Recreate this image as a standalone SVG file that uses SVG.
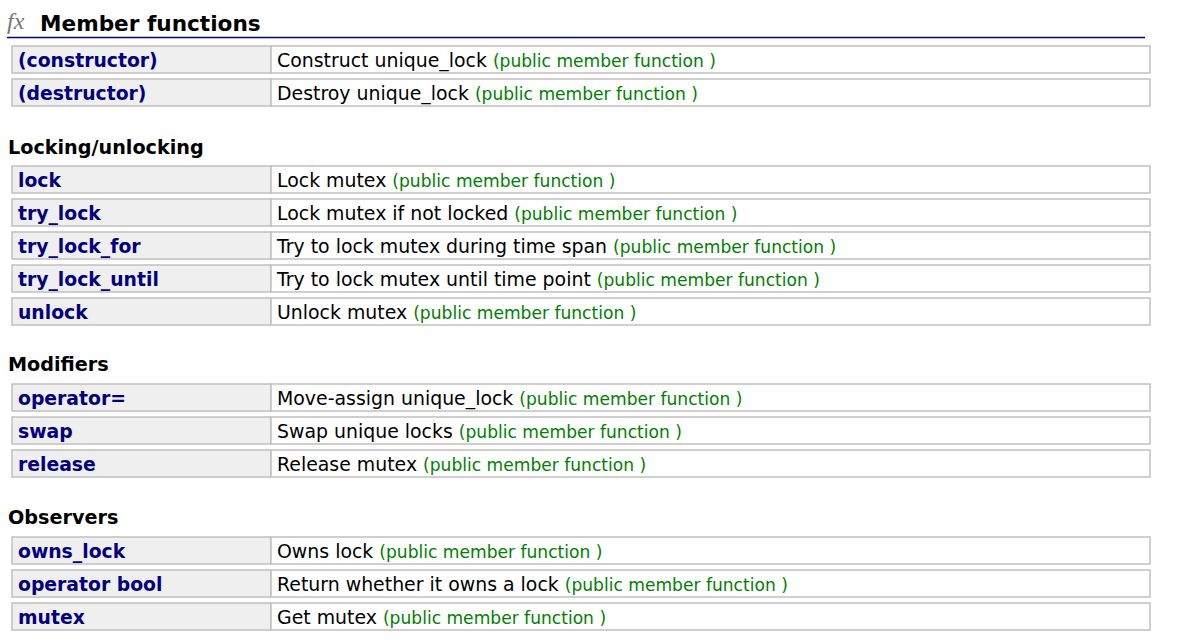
<svg xmlns="http://www.w3.org/2000/svg" width="1185" height="644" viewBox="0 0 1185 644">
<style>
.bg{fill:#fff}
.row rect.l{fill:#efefef;stroke:#c0c0c0;stroke-width:1.5}
.row rect.r{fill:#fff;stroke:#c0c0c0;stroke-width:1.5}
.n{font-family:"DejaVu Sans",Verdana,sans-serif;font-weight:bold;font-size:18.8px;fill:#000080}
.d{font-family:"DejaVu Sans",Verdana,sans-serif;font-size:18.9px;fill:#000}
.g{font-size:17.1px;fill:#008000}
.h{font-family:"DejaVu Sans",Verdana,sans-serif;font-weight:bold;font-size:19.2px;fill:#000}
.t{font-family:"DejaVu Sans",Verdana,sans-serif;font-weight:bold;font-size:21.6px;fill:#000}
</style>
<rect class="bg" width="1185" height="644"/>
<text x="7" y="29" font-family="Liberation Serif,serif" font-style="italic" font-size="24" fill="#777">fx</text>
<text class="t" x="40" y="31">Member functions</text>
<line x1="7" y1="37.5" x2="1145" y2="37.5" stroke="#000080" stroke-width="1.5"/>
<text class="h" x="8" y="154">Locking/unlocking</text>
<text class="h" x="8" y="371">Modifiers</text>
<text class="h" x="8" y="524">Observers</text>
<g id="r-constructor" class="row"><rect class="l" x="12" y="46" width="259" height="27"/><rect class="r" x="271" y="46" width="879" height="27"/><text class="n" x="18" y="67">(constructor)</text><text class="d" x="277" y="67">Construct unique_lock <tspan class="g">(public member function )</tspan></text></g>
<g id="r-destructor" class="row"><rect class="l" x="12" y="79" width="259" height="27"/><rect class="r" x="271" y="79" width="879" height="27"/><text class="n" x="18" y="100">(destructor)</text><text class="d" x="277" y="100">Destroy unique_lock <tspan class="g">(public member function )</tspan></text></g>
<g id="r-lock" class="row"><rect class="l" x="12" y="166" width="259" height="27"/><rect class="r" x="271" y="166" width="879" height="27"/><text class="n" x="18" y="187">lock</text><text class="d" x="277" y="187">Lock mutex <tspan class="g">(public member function )</tspan></text></g>
<g id="r-try_lock" class="row"><rect class="l" x="12" y="199" width="259" height="27"/><rect class="r" x="271" y="199" width="879" height="27"/><text class="n" x="18" y="220">try_lock</text><text class="d" x="277" y="220">Lock mutex if not locked <tspan class="g">(public member function )</tspan></text></g>
<g id="r-try_lock_for" class="row"><rect class="l" x="12" y="232" width="259" height="27"/><rect class="r" x="271" y="232" width="879" height="27"/><text class="n" x="18" y="253">try_lock_for</text><text class="d" x="277" y="253">Try to lock mutex during time span <tspan class="g">(public member function )</tspan></text></g>
<g id="r-try_lock_until" class="row"><rect class="l" x="12" y="265" width="259" height="27"/><rect class="r" x="271" y="265" width="879" height="27"/><text class="n" x="18" y="286">try_lock_until</text><text class="d" x="277" y="286">Try to lock mutex until time point <tspan class="g">(public member function )</tspan></text></g>
<g id="r-unlock" class="row"><rect class="l" x="12" y="298" width="259" height="27"/><rect class="r" x="271" y="298" width="879" height="27"/><text class="n" x="18" y="319">unlock</text><text class="d" x="277" y="319">Unlock mutex <tspan class="g">(public member function )</tspan></text></g>
<g id="r-operator-assign" class="row"><rect class="l" x="12" y="384" width="259" height="27"/><rect class="r" x="271" y="384" width="879" height="27"/><text class="n" x="18" y="405">operator=</text><text class="d" x="277" y="405">Move-assign unique_lock <tspan class="g">(public member function )</tspan></text></g>
<g id="r-swap" class="row"><rect class="l" x="12" y="417" width="259" height="27"/><rect class="r" x="271" y="417" width="879" height="27"/><text class="n" x="18" y="438">swap</text><text class="d" x="277" y="438">Swap unique locks <tspan class="g">(public member function )</tspan></text></g>
<g id="r-release" class="row"><rect class="l" x="12" y="450" width="259" height="27"/><rect class="r" x="271" y="450" width="879" height="27"/><text class="n" x="18" y="471">release</text><text class="d" x="277" y="471">Release mutex <tspan class="g">(public member function )</tspan></text></g>
<g id="r-owns_lock" class="row"><rect class="l" x="12" y="537" width="259" height="27"/><rect class="r" x="271" y="537" width="879" height="27"/><text class="n" x="18" y="558">owns_lock</text><text class="d" x="277" y="558">Owns lock <tspan class="g">(public member function )</tspan></text></g>
<g id="r-operator-bool" class="row"><rect class="l" x="12" y="570" width="259" height="27"/><rect class="r" x="271" y="570" width="879" height="27"/><text class="n" x="18" y="591">operator bool</text><text class="d" x="277" y="591">Return whether it owns a lock <tspan class="g">(public member function )</tspan></text></g>
<g id="r-mutex" class="row"><rect class="l" x="12" y="603" width="259" height="27"/><rect class="r" x="271" y="603" width="879" height="27"/><text class="n" x="18" y="624">mutex</text><text class="d" x="277" y="624">Get mutex <tspan class="g">(public member function )</tspan></text></g>
<g id="connectors"/>
</svg>
